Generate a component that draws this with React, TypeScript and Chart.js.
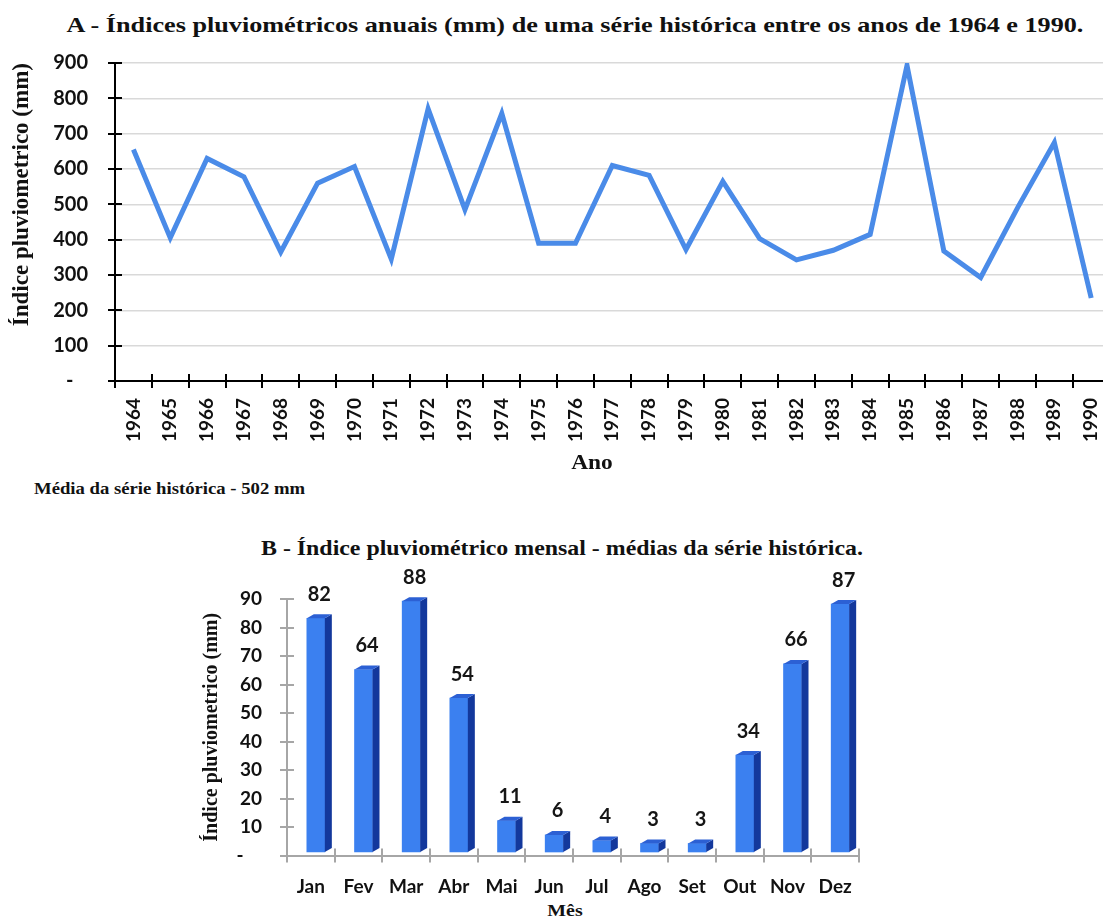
import React, { useEffect, useRef } from 'react';
import { Chart, registerables } from 'chart.js';

Chart.register(...registerables);

// ---------- Data ----------
const years = [
  '1964', '1965', '1966', '1967', '1968', '1969', '1970', '1971', '1972',
  '1973', '1974', '1975', '1976', '1977', '1978', '1979', '1980', '1981',
  '1982', '1983', '1984', '1985', '1986', '1987', '1988', '1989', '1990',
];
const annualRain = [
  655, 405, 630, 578, 365, 560, 607, 345, 770,
  485, 757, 390, 390, 610, 582, 372, 565, 403,
  343, 370, 415, 893, 368, 293, 490, 675, 235,
];
const months = ['Jan', 'Fev', 'Mar', 'Abr', 'Mai', 'Jun', 'Jul', 'Ago', 'Set', 'Out', 'Nov', 'Dez'];
const monthlyRain = [82, 64, 88, 54, 11, 6, 4, 3, 3, 34, 66, 87];

const annualAxisMax = 900;
const annualAxisStep = 100;
const monthlyAxisMax = 90;
const monthlyAxisStep = 10;
const zeroLabelA = '-   ';
const zeroLabelB = '-    ';

const titleA = 'A - Índices pluviométricos anuais (mm) de uma série histórica entre os anos de 1964 e 1990.';
const titleB = 'B - Índice pluviométrico mensal - médias da série histórica.';
const yTitle = 'Índice pluviometrico (mm)';
const xTitleA = 'Ano';
const xTitleB = 'Mês';
const meanNote = 'Média da série histórica - 502 mm';

// ---------- Styles ----------
const SERIF = "'Liberation Serif', 'Times New Roman', serif";
const SANS = "Lato, 'Open Sans', sans-serif";
const LINE_BLUE = '#4a8be8';
const BAR_FRONT = '#3b80f0';
const BAR_SIDE = '#13389c';
const BAR_TOP = '#2c60d4';

// ---------- Plugins ----------
const crossTicks = {
  id: 'crossTicks',
  afterDraw(chart: any, _args: any, o: any) {
    const { ctx, chartArea } = chart;
    const xs = chart.scales.x;
    const ys = chart.scales.y;
    ctx.save();
    ctx.strokeStyle = o.color;
    ctx.lineWidth = o.width;
    ctx.beginPath();
    ys.ticks.forEach((_t: any, i: number) => {
      const y = Math.round(ys.getPixelForTick(i));
      ctx.moveTo(chartArea.left - o.len, y);
      ctx.lineTo(chartArea.left + o.len, y);
    });
    for (let i = 0; i <= xs.ticks.length; i++) {
      const x = Math.round(xs.getPixelForValue(i - 0.5));
      ctx.moveTo(x, chartArea.bottom - o.len);
      ctx.lineTo(x, chartArea.bottom + o.len);
    }
    ctx.stroke();
    ctx.restore();
  },
};

const bar3d = {
  id: 'bar3d',
  beforeDatasetsDraw(chart: any, _a: any, o: any) {
    chart.ctx.save();
    chart.ctx.translate(o.dx, o.dy);
  },
  afterDatasetsDraw(chart: any, _a: any, o: any) {
    const ctx = chart.ctx;
    const meta = chart.getDatasetMeta(0);
    meta.data.forEach((bar: any) => {
      const { x, y, base, width } = bar.getProps(['x', 'y', 'base', 'width'], true);
      const l = x - width / 2;
      const r = x + width / 2;
      ctx.fillStyle = o.side;
      ctx.beginPath();
      ctx.moveTo(r, y);
      ctx.lineTo(r + o.depth, y - o.rise);
      ctx.lineTo(r + o.depth, base - o.rise);
      ctx.lineTo(r, base);
      ctx.closePath();
      ctx.fill();
      ctx.fillStyle = o.top;
      ctx.beginPath();
      ctx.moveTo(l, y);
      ctx.lineTo(l + o.depth, y - o.rise);
      ctx.lineTo(r + o.depth, y - o.rise);
      ctx.lineTo(r, y);
      ctx.closePath();
      ctx.fill();
    });
    ctx.restore();

    const values = chart.data.datasets[0].data;
    ctx.save();
    ctx.font = `bold ${o.labelSize}px ${SANS}`;
    ctx.fillStyle = '#151515';
    ctx.textAlign = 'center';
    ctx.textBaseline = 'middle';
    meta.data.forEach((bar: any, i: number) => {
      ctx.fillText(String(values[i]), bar.x + o.dx + o.depth / 2, bar.y + o.dy - o.labelGap);
    });
    ctx.restore();
  },
};

// ---------- Charts ----------
function AnnualChart() {
  const ref = useRef<HTMLCanvasElement>(null);
  useEffect(() => {
    const chart = new Chart(ref.current as HTMLCanvasElement, {
      type: 'line',
      data: {
        labels: years,
        datasets: [
          {
            data: annualRain,
            borderColor: LINE_BLUE,
            borderWidth: 5,
            pointRadius: 0,
            tension: 0,
            borderJoinStyle: 'miter',
            fill: false,
          },
        ],
      },
      options: {
        responsive: false,
        animation: false,
        devicePixelRatio: 1,
        layout: { padding: { top: 0, left: 0, right: 0, bottom: 0 } },
        plugins: {
          legend: { display: false },
          tooltip: { enabled: false },
          crossTicks: { color: '#000', width: 2, len: 7 },
        } as any,
        scales: {
          x: {
            type: 'category',
            offset: true,
            grid: { display: false, drawTicks: false, offset: true },
            border: { display: true, color: '#000', width: 2 },
            ticks: {
              autoSkip: false,
              minRotation: 90,
              maxRotation: 90,
              padding: 17,
              color: '#111',
              font: { family: SANS, size: 19, weight: 'bold' },
            },
            afterFit: (s: any) => {
              s.height = 79;
            },
          },
          y: {
            min: 0,
            max: annualAxisMax,
            grid: { color: '#d9d9d9', lineWidth: 1.5, drawTicks: false },
            border: { display: true, color: '#000', width: 2 },
            ticks: {
              stepSize: annualAxisStep,
              padding: 27,
              color: '#111',
              font: { family: SANS, size: 20, weight: 'bold' },
              callback: (v: any) => (v === 0 ? zeroLabelA : String(v)),
            },
            title: {
              display: true,
              text: yTitle,
              align: 'end',
              color: '#111',
              padding: { top: 8, bottom: 0 },
              font: { family: SERIF, size: 23, weight: 'bold' },
            },
            afterFit: (s: any) => {
              s.width = 115;
            },
          },
        },
      } as any,
      plugins: [crossTicks],
    });
    return () => chart.destroy();
  }, []);
  return (
    <canvas
      ref={ref}
      width={1131}
      height={436}
      style={{ position: 'absolute', left: 0, top: 24, width: 1131, height: 436 }}
    />
  );
}

function MonthlyChart() {
  const ref = useRef<HTMLCanvasElement>(null);
  useEffect(() => {
    const chart = new Chart(ref.current as HTMLCanvasElement, {
      type: 'bar',
      data: {
        labels: months,
        datasets: [
          {
            data: monthlyRain,
            backgroundColor: BAR_FRONT,
            borderWidth: 0,
            barThickness: 18,
            clip: false,
          } as any,
        ],
      },
      options: {
        responsive: false,
        animation: false,
        devicePixelRatio: 1,
        layout: { padding: { top: 39, left: 190, right: 244, bottom: 0 } },
        plugins: {
          legend: { display: false },
          tooltip: { enabled: false },
          crossTicks: { color: '#a6a6a6', width: 2, len: 7 },
          bar3d: {
            dx: 5,
            dy: -3.5,
            depth: 7,
            rise: 4,
            side: BAR_SIDE,
            top: BAR_TOP,
            labelSize: 20,
            labelGap: 24,
          },
        } as any,
        scales: {
          x: {
            grid: { display: false, drawTicks: false },
            border: { display: true, color: '#a6a6a6', width: 2 },
            ticks: {
              padding: 20,
              color: '#111',
              font: { family: SANS, size: 19, weight: 'bold' },
            },
            afterFit: (s: any) => {
              s.height = 44.5;
            },
          },
          y: {
            min: 0,
            max: monthlyAxisMax,
            grid: { display: false, drawTicks: false },
            border: { display: true, color: '#a6a6a6', width: 2 },
            ticks: {
              stepSize: monthlyAxisStep,
              padding: 25,
              color: '#111',
              font: { family: SANS, size: 19, weight: 'bold' },
              callback: (v: any) => (v === 0 ? zeroLabelB : String(v)),
            },
            title: {
              display: true,
              text: yTitle,
              color: '#111',
              padding: { top: 10, bottom: 0 },
              font: { family: SERIF, size: 20, weight: 'bold' },
            },
            afterFit: (s: any) => {
              s.width = 97;
            },
          },
        },
      } as any,
      plugins: [crossTicks, bar3d],
    });
    return () => chart.destroy();
  }, []);
  return (
    <canvas
      ref={ref}
      width={1103}
      height={340}
      style={{ position: 'absolute', left: 0, top: 560, width: 1103, height: 340 }}
    />
  );
}

const textBase: React.CSSProperties = {
  position: 'absolute',
  fontFamily: SERIF,
  fontWeight: 'bold',
  color: '#111',
  whiteSpace: 'nowrap',
};

export default function App() {
  return (
    <div
      style={{
        position: 'absolute',
        left: 0,
        top: 0,
        width: 1103,
        height: 920,
        overflow: 'hidden',
        background: '#fff',
      }}
    >
      <div style={{ ...textBase, left: 575, top: 10, fontSize: 22, lineHeight: '30px', transform: 'translateX(-50%) scaleX(1.19)' }}>
        {titleA}
      </div>
      <AnnualChart />
      <div style={{ ...textBase, left: 592, top: 450, fontSize: 20, lineHeight: '24px', transform: 'translateX(-50%) scaleX(1.17)' }}>
        {xTitleA}
      </div>
      <div style={{ ...textBase, left: 34, top: 478, fontSize: 17, lineHeight: '22px', transformOrigin: 'left center', transform: 'scaleX(1.1)' }}>
        {meanNote}
      </div>
      <div style={{ ...textBase, left: 562, top: 534, fontSize: 22, lineHeight: '28px', transform: 'translateX(-50%) scaleX(1.085)' }}>
        {titleB}
      </div>
      <MonthlyChart />
      <div style={{ ...textBase, left: 565, top: 900, fontSize: 17, lineHeight: '22px', transform: 'translateX(-50%) scaleX(1.17)' }}>
        {xTitleB}
      </div>
    </div>
  );
}
